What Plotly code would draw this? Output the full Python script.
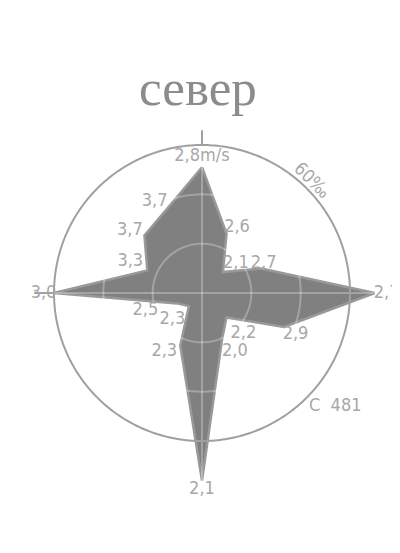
import numpy as np
import plotly.graph_objects as go

# ---- data ----
directions = ["N", "NNE", "NE", "ENE", "E", "ESE", "SE", "SSE",
              "S", "SSW", "SW", "WSW", "W", "WNW", "NW", "NNW"]
angles = [0, 22.5, 45, 67.5, 90, 112.5, 135, 157.5,
          180, 202.5, 225, 247.5, 270, 292.5, 315, 337.5]
frequency = [51, 26, 12, 26, 70, 36, 14, 21, 76, 23, 7.5, 11, 60, 24, 33, 37]   # per mille
speed_labels = ["2,8m/s", "2,6", "2,1", "2,7", "2,7", "2,9", "2,2", "2,0",
                "2,1", "2,3", "2,3", "2,5", "3,0", "3,3", "3,7", "3,7"]
grid_rings = [20, 40]
outer_ring = 60
calm_text = "С  481"
title_text = "север"

# label offsets from their vertex, in screen pixels (dx right, dy down) - styling only
label_offsets = [(0, -11), (10.5, -6.5), (13, -9), (2.4, -5), (12, 0), (11.5, 8),
                 (17, 16), (13, 10.5), (0, 0), (-16, 6), (-16.5, 13.5), (-31.5, 7),
                 (-10.5, 0), (-17, -9), (-14.5, -5), (-12.5, -7)]
label_anchor = ["middle center"] * 8 + ["bottom center"] + ["middle center"] * 7

R_MAX = 78
PX_PER_UNIT = 148 / 60.0
FILL = "#808080"
EDGE = "#999999"
LINE = "#a0a0a0"
GRID = "rgba(255,255,255,0.28)"
TXT = "#a8a8a8"
LABEL_FONT = dict(family="DejaVu Sans Condensed, Liberation Sans Narrow, sans-serif",
                  size=18, color=TXT)

# label positions: vertex shifted by a pixel offset, converted back to polar
th = np.radians(angles)
vx = np.array(frequency) * PX_PER_UNIT * np.sin(th)
vy = np.array(frequency) * PX_PER_UNIT * np.cos(th)
ox = np.array([o[0] for o in label_offsets])
oy = np.array([o[1] for o in label_offsets])
lx, ly = vx + ox, vy - oy
label_r = np.hypot(lx, ly) / PX_PER_UNIT
label_theta = np.degrees(np.arctan2(lx, ly)) % 360

circ = np.linspace(0, 360, 361)

fig = go.Figure()

# filled wind rose
fig.add_trace(go.Scatterpolar(
    r=frequency + frequency[:1], theta=angles + angles[:1],
    mode="lines", fill="toself", fillcolor=FILL,
    line=dict(color=EDGE, width=2.5), hoverinfo="skip"))

# inner grid rings (visible only over the fill)
for rr in grid_rings:
    fig.add_trace(go.Scatterpolar(r=[rr] * len(circ), theta=circ, mode="lines",
                                  line=dict(color=GRID, width=2), hoverinfo="skip"))
# spokes
for a in [0, 90, 180, 270]:
    fig.add_trace(go.Scatterpolar(r=[0, R_MAX], theta=[a, a], mode="lines",
                                  line=dict(color=GRID, width=2), hoverinfo="skip"))
# outer ring
fig.add_trace(go.Scatterpolar(r=[outer_ring] * len(circ), theta=circ, mode="lines",
                              line=dict(color=LINE, width=2), hoverinfo="skip"))
# N and W axis extensions
fig.add_trace(go.Scatterpolar(r=[outer_ring, 66], theta=[0, 0], mode="lines",
                              line=dict(color=LINE, width=2), hoverinfo="skip"))
fig.add_trace(go.Scatterpolar(r=[outer_ring, 68], theta=[270, 270], mode="lines",
                              line=dict(color=LINE, width=2), hoverinfo="skip"))

# speed labels
fig.add_trace(go.Scatterpolar(
    r=label_r, theta=label_theta, mode="text", text=speed_labels,
    textposition=label_anchor, textfont=LABEL_FONT, hoverinfo="skip",
    cliponaxis=False))

fig.update_layout(
    width=400, height=553,
    margin=dict(l=0, r=0, t=0, b=0),
    paper_bgcolor="white",
    showlegend=False,
    polar=dict(
        domain=dict(x=[0.004, 0.966], y=[0.1367, 0.8325]),
        bgcolor="rgba(0,0,0,0)",
        radialaxis=dict(visible=False, range=[0, R_MAX]),
        angularaxis=dict(visible=False, rotation=90, direction="clockwise"),
    ),
    annotations=[
        dict(text=title_text, x=0.475, y=0.8553, xref="paper", yref="paper",
             showarrow=False, xanchor="center", yanchor="middle",
             font=dict(family="Liberation Serif, DejaVu Serif, serif", size=51, color="#8c8c8c")),
        dict(text=calm_text, x=0.8175, y=0.2839, xref="paper", yref="paper",
             showarrow=False, xanchor="center", yanchor="middle", font=LABEL_FONT),
        dict(text="60‰", x=0.76, y=0.689, xref="paper", yref="paper",
             showarrow=False, xanchor="center", yanchor="middle", textangle=45,
             font=LABEL_FONT),
    ],
)

fig.write_html("out.html")
